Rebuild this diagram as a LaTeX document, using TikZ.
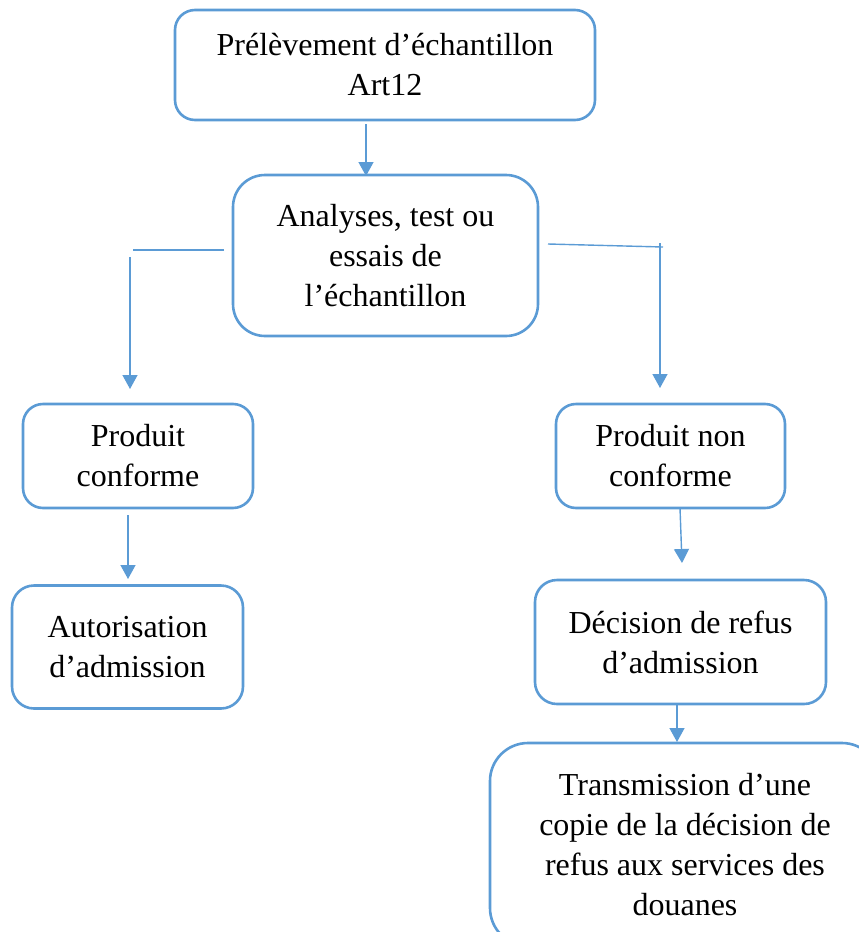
\documentclass[tikz,border=0pt]{standalone}
\usepackage{fontspec}
\setmainfont{Liberation Serif}
\usetikzlibrary{arrows.meta}
\definecolor{accent}{HTML}{5B9BD5}
\begin{document}
\begin{tikzpicture}[x=1pt,y=-1pt,
  box/.style={draw=accent, line width=2.6pt, fill=white, align=center,
    inner sep=0pt, outer sep=0pt,
    font=\fontsize{32}{40}\selectfont},
  link/.style={draw=accent, line width=1.4pt},
  flow/.style={link, -{Triangle[width=15pt,length=14pt]}}]
\useasboundingbox (0,0) rectangle (859,932);
\clip (0,0) rectangle (859,932);

% process boxes
\node[box, minimum width=420, minimum height=110, rounded corners=20pt] (sample) at (385,65)
  {Prélèvement d’échantillon\\Art12};
\node[box, minimum width=305, minimum height=161, rounded corners=32pt] (tests) at (385.5,255.5)
  {Analyses, test ou\\essais de\\l’échantillon};
\node[box, minimum width=230, minimum height=104, rounded corners=20pt] (ok) at (138,456)
  {Produit\\conforme};
\node[box, minimum width=231, minimum height=123, rounded corners=22pt] (admit) at (127.5,647)
  {Autorisation\\d’admission};
\node[box, minimum width=229, minimum height=104, rounded corners=20pt] (nok) at (670.5,456)
  {Produit non\\conforme};
\node[box, minimum width=291, minimum height=124, rounded corners=22pt] (refuse) at (680.5,642)
  {Décision de refus\\d’admission};
\node[box, minimum width=390, minimum height=203, rounded corners=38pt] (send) at (685,844.5)
  {Transmission d’une\\copie de la décision de\\refus aux services des\\douanes};

% connector end points
\coordinate (s1) at (366,124);
\coordinate (s2) at (366,176);
\coordinate (lh1) at (224,250);
\coordinate (lh2) at (133,250);
\coordinate (lv1) at (130,257);
\coordinate (lv2) at (130,389);
\coordinate (rh1) at (548,244);
\coordinate (rh2) at (663,247);
\coordinate (rv1) at (660,243);
\coordinate (rv2) at (660,388);
\coordinate (o1) at (128,515);
\coordinate (o2) at (128,579);
\coordinate (n1) at (680,508);
\coordinate (n2) at (682,563);
\coordinate (d1) at (677,705);
\coordinate (d2) at (677,742);

% connectors
\draw[flow] (s1) -- (s2);
\draw[link] (lh1) -- (lh2);
\draw[flow] (lv1) -- (lv2);
\draw[link] (rh1) -- (rh2);
\draw[flow] (rv1) -- (rv2);
\draw[flow] (o1) -- (o2);
\draw[flow] (n1) -- (n2);
\draw[flow] (d1) -- (d2);
\end{tikzpicture}
\end{document}
